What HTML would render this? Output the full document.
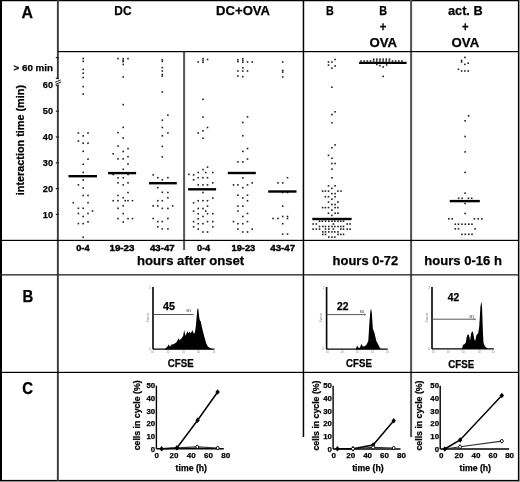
<!DOCTYPE html>
<html><head><meta charset="utf-8"><style>
html,body{margin:0;padding:0;background:#fff;width:520px;height:482px;overflow:hidden}
svg{display:block;filter:grayscale(1)}
text{font-family:"Liberation Sans", sans-serif}
text[font-weight=bold]{stroke:#000;stroke-width:0.25px}
</style></head><body>
<svg width="520" height="482" viewBox="0 0 520 482" font-family='"Liberation Sans", sans-serif'>
<rect width="520" height="482" fill="#fff"/>
<rect x="0" y="0" width="2" height="481" fill="#000"/>
<rect x="0" y="0" width="519" height="1.25" fill="#000"/>
<rect x="517.9" y="0" width="1.3" height="481" fill="#000"/>
<rect x="519.2" y="0" width="0.8" height="482" fill="#888"/>
<rect x="0" y="479.9" width="519" height="1.2" fill="#000"/>
<rect x="0" y="481.1" width="520" height="0.9" fill="#888"/>
<rect x="56.9" y="0" width="1.9" height="481" fill="#3a3a3a"/>
<rect x="302.7" y="0" width="1.5" height="437" fill="#000"/>
<rect x="410.1" y="0" width="2" height="437" fill="#505050"/>
<rect x="183.1" y="51" width="2" height="199" fill="#555"/>
<rect x="58" y="51.0" width="461" height="1.2" fill="#000"/>
<rect x="0" y="239.8" width="519" height="1.2" fill="#000"/>
<rect x="0" y="274.2" width="519" height="1.3" fill="#222"/>
<rect x="0" y="371.8" width="519" height="1.2" fill="#000"/>
<text x="21.5" y="18.2" font-size="16.5" font-weight="bold" textLength="11.5" lengthAdjust="spacingAndGlyphs" fill="#000">A</text>
<text x="22.5" y="301.8" font-size="16.5" font-weight="bold" textLength="10.8" lengthAdjust="spacingAndGlyphs" fill="#000">B</text>
<text x="22.3" y="393.8" font-size="16.5" font-weight="bold" textLength="10.8" lengthAdjust="spacingAndGlyphs" fill="#000">C</text>
<text x="114.3" y="15.4" font-size="12.6" font-weight="bold" textLength="17.2" lengthAdjust="spacingAndGlyphs" fill="#000">DC</text>
<text x="216.1" y="15.4" font-size="12.6" font-weight="bold" textLength="54.0" lengthAdjust="spacingAndGlyphs" fill="#000">DC+OVA</text>
<text x="326.0" y="15.1" font-size="12.6" font-weight="bold" textLength="7.8" lengthAdjust="spacingAndGlyphs" fill="#000">B</text>
<text x="379.3" y="15.1" font-size="12.6" font-weight="bold" textLength="7.8" lengthAdjust="spacingAndGlyphs" fill="#000">B</text>
<text x="379.8" y="30.5" font-size="12.6" font-weight="bold" textLength="6.6" lengthAdjust="spacingAndGlyphs" fill="#000">+</text>
<text x="369.4" y="46.7" font-size="12.6" font-weight="bold" textLength="27.6" lengthAdjust="spacingAndGlyphs" fill="#000">OVA</text>
<text x="448.0" y="15.1" font-size="12.6" font-weight="bold" textLength="34.6" lengthAdjust="spacingAndGlyphs" fill="#000">act. B</text>
<text x="462.1" y="30.5" font-size="12.6" font-weight="bold" textLength="6.6" lengthAdjust="spacingAndGlyphs" fill="#000">+</text>
<text x="451.6" y="46.7" font-size="12.6" font-weight="bold" textLength="27.6" lengthAdjust="spacingAndGlyphs" fill="#000">OVA</text>
<text x="13.6" y="70.6" font-size="9.3" font-weight="bold" textLength="39.4" lengthAdjust="spacingAndGlyphs" fill="#000">&gt; 60 min</text>
<text x="53.0" y="88.3" font-size="9.7" font-weight="bold" text-anchor="end" textLength="10.2" lengthAdjust="spacingAndGlyphs" fill="#000">60</text>
<text x="53.0" y="114.3" font-size="9.7" font-weight="bold" text-anchor="end" textLength="10.2" lengthAdjust="spacingAndGlyphs" fill="#000">50</text>
<text x="53.0" y="140.10000000000002" font-size="9.7" font-weight="bold" text-anchor="end" textLength="10.2" lengthAdjust="spacingAndGlyphs" fill="#000">40</text>
<text x="53.0" y="165.9" font-size="9.7" font-weight="bold" text-anchor="end" textLength="10.2" lengthAdjust="spacingAndGlyphs" fill="#000">30</text>
<text x="53.0" y="191.70000000000002" font-size="9.7" font-weight="bold" text-anchor="end" textLength="10.2" lengthAdjust="spacingAndGlyphs" fill="#000">20</text>
<text x="53.0" y="217.5" font-size="9.7" font-weight="bold" text-anchor="end" textLength="10.2" lengthAdjust="spacingAndGlyphs" fill="#000">10</text>
<line x1="55.8" y1="57.6" x2="59" y2="57.6" stroke="#222" stroke-width="1.2"/>
<line x1="55.8" y1="78.4" x2="59" y2="78.4" stroke="#222" stroke-width="1.2"/>
<line x1="55.8" y1="85.3" x2="59" y2="85.3" stroke="#222" stroke-width="1.2"/>
<line x1="55.8" y1="111.2" x2="59" y2="111.2" stroke="#222" stroke-width="1.2"/>
<line x1="55.8" y1="137.0" x2="59" y2="137.0" stroke="#222" stroke-width="1.2"/>
<line x1="55.8" y1="162.8" x2="59" y2="162.8" stroke="#222" stroke-width="1.2"/>
<line x1="55.8" y1="188.6" x2="59" y2="188.6" stroke="#222" stroke-width="1.2"/>
<line x1="55.8" y1="214.4" x2="59" y2="214.4" stroke="#222" stroke-width="1.2"/>
<rect x="56.5" y="79.2" width="3.2" height="5.4" fill="#fff"/>
<line x1="55.2" y1="82.2" x2="60.8" y2="79.9" stroke="#222" stroke-width="1.0"/>
<line x1="55.6" y1="84.3" x2="61.2" y2="82.0" stroke="#222" stroke-width="1.0"/>
<text transform="translate(23.9,195.2) rotate(-90)" font-size="10.8" font-weight="bold" textLength="110.2" lengthAdjust="spacingAndGlyphs">interaction time (min)</text>
<rect x="82.40" y="57.70" width="1.6" height="1.6" fill="#222"/>
<rect x="82.40" y="60.50" width="1.6" height="1.6" fill="#222"/>
<rect x="82.40" y="68.60" width="1.6" height="1.6" fill="#222"/>
<rect x="82.40" y="72.40" width="1.6" height="1.6" fill="#222"/>
<rect x="82.40" y="76.70" width="1.6" height="1.6" fill="#222"/>
<rect x="82.40" y="85.80" width="1.6" height="1.6" fill="#222"/>
<rect x="82.40" y="93.30" width="1.6" height="1.6" fill="#222"/>
<rect x="82.40" y="135.10" width="1.6" height="1.6" fill="#222"/>
<rect x="82.40" y="142.40" width="1.6" height="1.6" fill="#222"/>
<rect x="82.40" y="150.50" width="1.6" height="1.6" fill="#222"/>
<rect x="82.40" y="163.50" width="1.6" height="1.6" fill="#222"/>
<rect x="82.40" y="171.60" width="1.6" height="1.6" fill="#222"/>
<rect x="82.40" y="179.10" width="1.6" height="1.6" fill="#222"/>
<rect x="82.40" y="187.20" width="1.6" height="1.6" fill="#222"/>
<rect x="82.40" y="194.70" width="1.6" height="1.6" fill="#222"/>
<rect x="82.40" y="207.50" width="1.6" height="1.6" fill="#222"/>
<rect x="82.40" y="215.70" width="1.6" height="1.6" fill="#222"/>
<rect x="82.40" y="222.80" width="1.6" height="1.6" fill="#222"/>
<rect x="82.40" y="236.50" width="1.6" height="1.6" fill="#222"/>
<rect x="77.60" y="132.20" width="1.6" height="1.6" fill="#222"/>
<rect x="77.60" y="140.30" width="1.6" height="1.6" fill="#222"/>
<rect x="77.60" y="184.10" width="1.6" height="1.6" fill="#222"/>
<rect x="77.60" y="207.50" width="1.6" height="1.6" fill="#222"/>
<rect x="77.60" y="212.70" width="1.6" height="1.6" fill="#222"/>
<rect x="77.60" y="222.80" width="1.6" height="1.6" fill="#222"/>
<rect x="87.20" y="132.20" width="1.6" height="1.6" fill="#222"/>
<rect x="87.20" y="142.40" width="1.6" height="1.6" fill="#222"/>
<rect x="87.20" y="158.40" width="1.6" height="1.6" fill="#222"/>
<rect x="87.20" y="194.70" width="1.6" height="1.6" fill="#222"/>
<rect x="87.20" y="201.90" width="1.6" height="1.6" fill="#222"/>
<rect x="87.20" y="212.70" width="1.6" height="1.6" fill="#222"/>
<rect x="87.20" y="221.00" width="1.6" height="1.6" fill="#222"/>
<rect x="72.50" y="201.90" width="1.6" height="1.6" fill="#222"/>
<rect x="91.70" y="210.20" width="1.6" height="1.6" fill="#222"/>
<rect x="68.5" y="175.0" width="28.5" height="2.4" fill="#000"/>
<rect x="122.40" y="57.90" width="1.6" height="1.6" fill="#222"/>
<rect x="122.40" y="59.80" width="1.6" height="1.6" fill="#222"/>
<rect x="122.40" y="60.80" width="1.6" height="1.6" fill="#222"/>
<rect x="122.40" y="63.60" width="1.6" height="1.6" fill="#222"/>
<rect x="122.40" y="76.10" width="1.6" height="1.6" fill="#222"/>
<rect x="122.40" y="103.80" width="1.6" height="1.6" fill="#222"/>
<rect x="122.40" y="126.60" width="1.6" height="1.6" fill="#222"/>
<rect x="122.40" y="137.20" width="1.6" height="1.6" fill="#222"/>
<rect x="122.40" y="150.70" width="1.6" height="1.6" fill="#222"/>
<rect x="122.40" y="158.10" width="1.6" height="1.6" fill="#222"/>
<rect x="122.40" y="168.50" width="1.6" height="1.6" fill="#222"/>
<rect x="122.40" y="177.00" width="1.6" height="1.6" fill="#222"/>
<rect x="122.40" y="184.10" width="1.6" height="1.6" fill="#222"/>
<rect x="122.40" y="196.90" width="1.6" height="1.6" fill="#222"/>
<rect x="122.40" y="205.00" width="1.6" height="1.6" fill="#222"/>
<rect x="122.40" y="212.80" width="1.6" height="1.6" fill="#222"/>
<rect x="122.40" y="221.20" width="1.6" height="1.6" fill="#222"/>
<rect x="117.20" y="57.80" width="1.6" height="1.6" fill="#222"/>
<rect x="117.20" y="131.80" width="1.6" height="1.6" fill="#222"/>
<rect x="117.20" y="145.30" width="1.6" height="1.6" fill="#222"/>
<rect x="117.20" y="158.10" width="1.6" height="1.6" fill="#222"/>
<rect x="117.20" y="177.00" width="1.6" height="1.6" fill="#222"/>
<rect x="117.20" y="182.00" width="1.6" height="1.6" fill="#222"/>
<rect x="117.20" y="194.70" width="1.6" height="1.6" fill="#222"/>
<rect x="117.20" y="199.90" width="1.6" height="1.6" fill="#222"/>
<rect x="117.20" y="207.50" width="1.6" height="1.6" fill="#222"/>
<rect x="117.20" y="217.80" width="1.6" height="1.6" fill="#222"/>
<rect x="127.20" y="57.80" width="1.6" height="1.6" fill="#222"/>
<rect x="127.20" y="147.80" width="1.6" height="1.6" fill="#222"/>
<rect x="127.20" y="155.90" width="1.6" height="1.6" fill="#222"/>
<rect x="127.20" y="163.20" width="1.6" height="1.6" fill="#222"/>
<rect x="127.20" y="182.00" width="1.6" height="1.6" fill="#222"/>
<rect x="127.20" y="191.80" width="1.6" height="1.6" fill="#222"/>
<rect x="127.20" y="199.90" width="1.6" height="1.6" fill="#222"/>
<rect x="127.20" y="217.80" width="1.6" height="1.6" fill="#222"/>
<rect x="112.40" y="153.00" width="1.6" height="1.6" fill="#222"/>
<rect x="112.40" y="173.70" width="1.6" height="1.6" fill="#222"/>
<rect x="112.40" y="199.90" width="1.6" height="1.6" fill="#222"/>
<rect x="131.70" y="199.90" width="1.6" height="1.6" fill="#222"/>
<rect x="131.70" y="217.80" width="1.6" height="1.6" fill="#222"/>
<rect x="124.40" y="199.90" width="1.6" height="1.6" fill="#222"/>
<rect x="127.30" y="173.70" width="1.6" height="1.6" fill="#222"/>
<rect x="108.1" y="171.9" width="28.0" height="2.4" fill="#000"/>
<rect x="161.50" y="59.00" width="1.6" height="1.6" fill="#222"/>
<rect x="161.50" y="60.60" width="1.6" height="1.6" fill="#222"/>
<rect x="161.50" y="66.80" width="1.6" height="1.6" fill="#222"/>
<rect x="161.50" y="70.20" width="1.6" height="1.6" fill="#222"/>
<rect x="161.50" y="73.70" width="1.6" height="1.6" fill="#222"/>
<rect x="161.50" y="75.30" width="1.6" height="1.6" fill="#222"/>
<rect x="161.50" y="91.20" width="1.6" height="1.6" fill="#222"/>
<rect x="161.50" y="119.40" width="1.6" height="1.6" fill="#222"/>
<rect x="161.50" y="126.70" width="1.6" height="1.6" fill="#222"/>
<rect x="161.50" y="135.00" width="1.6" height="1.6" fill="#222"/>
<rect x="161.50" y="145.60" width="1.6" height="1.6" fill="#222"/>
<rect x="161.50" y="156.10" width="1.6" height="1.6" fill="#222"/>
<rect x="161.50" y="179.00" width="1.6" height="1.6" fill="#222"/>
<rect x="161.50" y="191.50" width="1.6" height="1.6" fill="#222"/>
<rect x="161.50" y="199.90" width="1.6" height="1.6" fill="#222"/>
<rect x="161.50" y="207.60" width="1.6" height="1.6" fill="#222"/>
<rect x="161.50" y="220.80" width="1.6" height="1.6" fill="#222"/>
<rect x="161.50" y="228.10" width="1.6" height="1.6" fill="#222"/>
<rect x="167.10" y="114.40" width="1.6" height="1.6" fill="#222"/>
<rect x="167.10" y="132.10" width="1.6" height="1.6" fill="#222"/>
<rect x="167.10" y="176.90" width="1.6" height="1.6" fill="#222"/>
<rect x="167.10" y="191.70" width="1.6" height="1.6" fill="#222"/>
<rect x="167.10" y="197.00" width="1.6" height="1.6" fill="#222"/>
<rect x="167.10" y="207.60" width="1.6" height="1.6" fill="#222"/>
<rect x="167.10" y="217.70" width="1.6" height="1.6" fill="#222"/>
<rect x="167.10" y="228.10" width="1.6" height="1.6" fill="#222"/>
<rect x="157.00" y="176.90" width="1.6" height="1.6" fill="#222"/>
<rect x="157.00" y="186.90" width="1.6" height="1.6" fill="#222"/>
<rect x="157.00" y="199.90" width="1.6" height="1.6" fill="#222"/>
<rect x="157.00" y="205.10" width="1.6" height="1.6" fill="#222"/>
<rect x="157.00" y="220.80" width="1.6" height="1.6" fill="#222"/>
<rect x="157.00" y="226.00" width="1.6" height="1.6" fill="#222"/>
<rect x="152.40" y="174.10" width="1.6" height="1.6" fill="#222"/>
<rect x="152.40" y="205.10" width="1.6" height="1.6" fill="#222"/>
<rect x="152.40" y="217.70" width="1.6" height="1.6" fill="#222"/>
<rect x="171.80" y="205.10" width="1.6" height="1.6" fill="#222"/>
<rect x="149" y="182.0" width="27.80000000000001" height="2.4" fill="#000"/>
<rect x="202.20" y="57.90" width="1.6" height="1.6" fill="#222"/>
<rect x="202.20" y="59.70" width="1.6" height="1.6" fill="#222"/>
<rect x="202.20" y="61.50" width="1.6" height="1.6" fill="#222"/>
<rect x="202.20" y="98.60" width="1.6" height="1.6" fill="#222"/>
<rect x="202.20" y="116.30" width="1.6" height="1.6" fill="#222"/>
<rect x="202.20" y="130.00" width="1.6" height="1.6" fill="#222"/>
<rect x="202.20" y="137.40" width="1.6" height="1.6" fill="#222"/>
<rect x="202.20" y="168.80" width="1.6" height="1.6" fill="#222"/>
<rect x="202.20" y="176.90" width="1.6" height="1.6" fill="#222"/>
<rect x="202.20" y="184.10" width="1.6" height="1.6" fill="#222"/>
<rect x="202.20" y="191.70" width="1.6" height="1.6" fill="#222"/>
<rect x="202.20" y="199.90" width="1.6" height="1.6" fill="#222"/>
<rect x="202.20" y="207.70" width="1.6" height="1.6" fill="#222"/>
<rect x="202.20" y="215.70" width="1.6" height="1.6" fill="#222"/>
<rect x="202.20" y="222.90" width="1.6" height="1.6" fill="#222"/>
<rect x="202.20" y="231.20" width="1.6" height="1.6" fill="#222"/>
<rect x="197.40" y="61.10" width="1.6" height="1.6" fill="#222"/>
<rect x="197.40" y="132.20" width="1.6" height="1.6" fill="#222"/>
<rect x="197.40" y="171.70" width="1.6" height="1.6" fill="#222"/>
<rect x="197.40" y="176.90" width="1.6" height="1.6" fill="#222"/>
<rect x="197.40" y="184.10" width="1.6" height="1.6" fill="#222"/>
<rect x="197.40" y="199.90" width="1.6" height="1.6" fill="#222"/>
<rect x="197.40" y="207.70" width="1.6" height="1.6" fill="#222"/>
<rect x="197.40" y="212.90" width="1.6" height="1.6" fill="#222"/>
<rect x="197.40" y="218.00" width="1.6" height="1.6" fill="#222"/>
<rect x="197.40" y="222.90" width="1.6" height="1.6" fill="#222"/>
<rect x="197.40" y="228.30" width="1.6" height="1.6" fill="#222"/>
<rect x="206.70" y="58.70" width="1.6" height="1.6" fill="#222"/>
<rect x="206.70" y="126.70" width="1.6" height="1.6" fill="#222"/>
<rect x="206.70" y="166.30" width="1.6" height="1.6" fill="#222"/>
<rect x="206.70" y="176.90" width="1.6" height="1.6" fill="#222"/>
<rect x="206.70" y="184.10" width="1.6" height="1.6" fill="#222"/>
<rect x="206.70" y="199.90" width="1.6" height="1.6" fill="#222"/>
<rect x="206.70" y="205.30" width="1.6" height="1.6" fill="#222"/>
<rect x="206.70" y="212.90" width="1.6" height="1.6" fill="#222"/>
<rect x="206.70" y="220.80" width="1.6" height="1.6" fill="#222"/>
<rect x="206.70" y="231.20" width="1.6" height="1.6" fill="#222"/>
<rect x="204.90" y="171.70" width="1.6" height="1.6" fill="#222"/>
<rect x="204.90" y="210.30" width="1.6" height="1.6" fill="#222"/>
<rect x="212.00" y="171.70" width="1.6" height="1.6" fill="#222"/>
<rect x="212.00" y="182.10" width="1.6" height="1.6" fill="#222"/>
<rect x="212.00" y="197.20" width="1.6" height="1.6" fill="#222"/>
<rect x="212.00" y="212.90" width="1.6" height="1.6" fill="#222"/>
<rect x="212.00" y="220.80" width="1.6" height="1.6" fill="#222"/>
<rect x="212.00" y="226.00" width="1.6" height="1.6" fill="#222"/>
<rect x="192.80" y="174.10" width="1.6" height="1.6" fill="#222"/>
<rect x="192.80" y="179.00" width="1.6" height="1.6" fill="#222"/>
<rect x="192.80" y="202.00" width="1.6" height="1.6" fill="#222"/>
<rect x="192.80" y="210.30" width="1.6" height="1.6" fill="#222"/>
<rect x="192.80" y="220.80" width="1.6" height="1.6" fill="#222"/>
<rect x="192.80" y="226.00" width="1.6" height="1.6" fill="#222"/>
<rect x="188.10" y="173.60" width="1.6" height="1.6" fill="#222"/>
<rect x="188.1" y="188.10000000000002" width="28.0" height="2.4" fill="#000"/>
<rect x="242.00" y="57.90" width="1.6" height="1.6" fill="#222"/>
<rect x="242.00" y="59.70" width="1.6" height="1.6" fill="#222"/>
<rect x="242.00" y="61.50" width="1.6" height="1.6" fill="#222"/>
<rect x="242.00" y="67.00" width="1.6" height="1.6" fill="#222"/>
<rect x="242.00" y="70.20" width="1.6" height="1.6" fill="#222"/>
<rect x="242.00" y="75.80" width="1.6" height="1.6" fill="#222"/>
<rect x="242.00" y="121.70" width="1.6" height="1.6" fill="#222"/>
<rect x="242.00" y="135.00" width="1.6" height="1.6" fill="#222"/>
<rect x="242.00" y="150.60" width="1.6" height="1.6" fill="#222"/>
<rect x="242.00" y="161.10" width="1.6" height="1.6" fill="#222"/>
<rect x="242.00" y="177.10" width="1.6" height="1.6" fill="#222"/>
<rect x="242.00" y="186.90" width="1.6" height="1.6" fill="#222"/>
<rect x="242.00" y="197.20" width="1.6" height="1.6" fill="#222"/>
<rect x="242.00" y="205.30" width="1.6" height="1.6" fill="#222"/>
<rect x="242.00" y="215.70" width="1.6" height="1.6" fill="#222"/>
<rect x="242.00" y="222.90" width="1.6" height="1.6" fill="#222"/>
<rect x="242.00" y="231.20" width="1.6" height="1.6" fill="#222"/>
<rect x="237.10" y="59.00" width="1.6" height="1.6" fill="#222"/>
<rect x="237.10" y="60.80" width="1.6" height="1.6" fill="#222"/>
<rect x="237.10" y="70.20" width="1.6" height="1.6" fill="#222"/>
<rect x="237.10" y="75.10" width="1.6" height="1.6" fill="#222"/>
<rect x="237.10" y="161.10" width="1.6" height="1.6" fill="#222"/>
<rect x="237.10" y="184.10" width="1.6" height="1.6" fill="#222"/>
<rect x="237.10" y="194.40" width="1.6" height="1.6" fill="#222"/>
<rect x="237.10" y="205.30" width="1.6" height="1.6" fill="#222"/>
<rect x="237.10" y="210.30" width="1.6" height="1.6" fill="#222"/>
<rect x="237.10" y="222.90" width="1.6" height="1.6" fill="#222"/>
<rect x="237.10" y="228.30" width="1.6" height="1.6" fill="#222"/>
<rect x="246.70" y="61.20" width="1.6" height="1.6" fill="#222"/>
<rect x="246.70" y="70.20" width="1.6" height="1.6" fill="#222"/>
<rect x="246.70" y="116.10" width="1.6" height="1.6" fill="#222"/>
<rect x="246.70" y="147.70" width="1.6" height="1.6" fill="#222"/>
<rect x="246.70" y="158.20" width="1.6" height="1.6" fill="#222"/>
<rect x="246.70" y="184.10" width="1.6" height="1.6" fill="#222"/>
<rect x="246.70" y="194.40" width="1.6" height="1.6" fill="#222"/>
<rect x="246.70" y="199.90" width="1.6" height="1.6" fill="#222"/>
<rect x="246.70" y="212.70" width="1.6" height="1.6" fill="#222"/>
<rect x="246.70" y="220.80" width="1.6" height="1.6" fill="#222"/>
<rect x="246.70" y="231.20" width="1.6" height="1.6" fill="#222"/>
<rect x="251.40" y="61.20" width="1.6" height="1.6" fill="#222"/>
<rect x="251.40" y="182.10" width="1.6" height="1.6" fill="#222"/>
<rect x="251.40" y="228.30" width="1.6" height="1.6" fill="#222"/>
<rect x="232.70" y="184.10" width="1.6" height="1.6" fill="#222"/>
<rect x="232.70" y="220.80" width="1.6" height="1.6" fill="#222"/>
<rect x="227.8" y="171.8" width="28.0" height="2.4" fill="#000"/>
<rect x="281.90" y="61.20" width="1.6" height="1.6" fill="#222"/>
<rect x="281.90" y="69.70" width="1.6" height="1.6" fill="#222"/>
<rect x="281.90" y="71.30" width="1.6" height="1.6" fill="#222"/>
<rect x="281.90" y="76.10" width="1.6" height="1.6" fill="#222"/>
<rect x="281.90" y="182.10" width="1.6" height="1.6" fill="#222"/>
<rect x="281.90" y="191.70" width="1.6" height="1.6" fill="#222"/>
<rect x="281.90" y="205.30" width="1.6" height="1.6" fill="#222"/>
<rect x="281.90" y="215.70" width="1.6" height="1.6" fill="#222"/>
<rect x="281.90" y="222.90" width="1.6" height="1.6" fill="#222"/>
<rect x="281.90" y="233.30" width="1.6" height="1.6" fill="#222"/>
<rect x="286.70" y="176.90" width="1.6" height="1.6" fill="#222"/>
<rect x="286.70" y="191.70" width="1.6" height="1.6" fill="#222"/>
<rect x="286.70" y="215.70" width="1.6" height="1.6" fill="#222"/>
<rect x="286.70" y="217.70" width="1.6" height="1.6" fill="#222"/>
<rect x="286.70" y="233.30" width="1.6" height="1.6" fill="#222"/>
<rect x="277.20" y="182.10" width="1.6" height="1.6" fill="#222"/>
<rect x="277.20" y="217.70" width="1.6" height="1.6" fill="#222"/>
<rect x="272.20" y="217.70" width="1.6" height="1.6" fill="#222"/>
<rect x="268.2" y="190.3" width="28.30000000000001" height="2.4" fill="#000"/>
<rect x="331.10" y="61.20" width="1.6" height="1.6" fill="#222"/>
<rect x="331.10" y="67.40" width="1.6" height="1.6" fill="#222"/>
<rect x="331.10" y="86.40" width="1.6" height="1.6" fill="#222"/>
<rect x="331.10" y="113.80" width="1.6" height="1.6" fill="#222"/>
<rect x="331.10" y="121.90" width="1.6" height="1.6" fill="#222"/>
<rect x="331.10" y="146.90" width="1.6" height="1.6" fill="#222"/>
<rect x="331.10" y="157.50" width="1.6" height="1.6" fill="#222"/>
<rect x="331.10" y="162.70" width="1.6" height="1.6" fill="#222"/>
<rect x="331.10" y="168.30" width="1.6" height="1.6" fill="#222"/>
<rect x="331.10" y="177.00" width="1.6" height="1.6" fill="#222"/>
<rect x="331.10" y="187.60" width="1.6" height="1.6" fill="#222"/>
<rect x="331.10" y="192.80" width="1.6" height="1.6" fill="#222"/>
<rect x="331.10" y="198.40" width="1.6" height="1.6" fill="#222"/>
<rect x="331.10" y="203.70" width="1.6" height="1.6" fill="#222"/>
<rect x="331.10" y="209.40" width="1.6" height="1.6" fill="#222"/>
<rect x="331.10" y="214.60" width="1.6" height="1.6" fill="#222"/>
<rect x="334.30" y="58.70" width="1.6" height="1.6" fill="#222"/>
<rect x="334.30" y="65.20" width="1.6" height="1.6" fill="#222"/>
<rect x="334.30" y="111.00" width="1.6" height="1.6" fill="#222"/>
<rect x="334.30" y="144.10" width="1.6" height="1.6" fill="#222"/>
<rect x="334.30" y="162.70" width="1.6" height="1.6" fill="#222"/>
<rect x="334.30" y="185.00" width="1.6" height="1.6" fill="#222"/>
<rect x="334.30" y="192.80" width="1.6" height="1.6" fill="#222"/>
<rect x="334.30" y="195.90" width="1.6" height="1.6" fill="#222"/>
<rect x="334.30" y="203.70" width="1.6" height="1.6" fill="#222"/>
<rect x="334.30" y="206.80" width="1.6" height="1.6" fill="#222"/>
<rect x="334.30" y="212.40" width="1.6" height="1.6" fill="#222"/>
<rect x="327.70" y="61.20" width="1.6" height="1.6" fill="#222"/>
<rect x="327.70" y="64.30" width="1.6" height="1.6" fill="#222"/>
<rect x="327.70" y="154.60" width="1.6" height="1.6" fill="#222"/>
<rect x="327.70" y="185.00" width="1.6" height="1.6" fill="#222"/>
<rect x="327.70" y="190.30" width="1.6" height="1.6" fill="#222"/>
<rect x="327.70" y="195.90" width="1.6" height="1.6" fill="#222"/>
<rect x="327.70" y="201.30" width="1.6" height="1.6" fill="#222"/>
<rect x="327.70" y="206.80" width="1.6" height="1.6" fill="#222"/>
<rect x="327.70" y="212.40" width="1.6" height="1.6" fill="#222"/>
<rect x="324.60" y="190.30" width="1.6" height="1.6" fill="#222"/>
<rect x="324.60" y="195.90" width="1.6" height="1.6" fill="#222"/>
<rect x="324.60" y="206.80" width="1.6" height="1.6" fill="#222"/>
<rect x="321.80" y="190.30" width="1.6" height="1.6" fill="#222"/>
<rect x="321.80" y="206.80" width="1.6" height="1.6" fill="#222"/>
<rect x="337.10" y="190.30" width="1.6" height="1.6" fill="#222"/>
<rect x="337.10" y="201.30" width="1.6" height="1.6" fill="#222"/>
<rect x="337.10" y="206.80" width="1.6" height="1.6" fill="#222"/>
<rect x="337.10" y="212.40" width="1.6" height="1.6" fill="#222"/>
<rect x="340.20" y="190.30" width="1.6" height="1.6" fill="#222"/>
<rect x="312.3" y="217.8" width="39.30000000000001" height="2.4" fill="#000"/>
<rect x="318.70" y="220.40" width="1.6" height="1.6" fill="#222"/>
<rect x="321.50" y="220.40" width="1.6" height="1.6" fill="#222"/>
<rect x="324.70" y="220.40" width="1.6" height="1.6" fill="#222"/>
<rect x="328.00" y="220.40" width="1.6" height="1.6" fill="#222"/>
<rect x="331.20" y="220.40" width="1.6" height="1.6" fill="#222"/>
<rect x="334.00" y="220.40" width="1.6" height="1.6" fill="#222"/>
<rect x="337.20" y="220.40" width="1.6" height="1.6" fill="#222"/>
<rect x="340.00" y="220.40" width="1.6" height="1.6" fill="#222"/>
<rect x="342.70" y="220.40" width="1.6" height="1.6" fill="#222"/>
<rect x="312.30" y="223.20" width="1.6" height="1.6" fill="#222"/>
<rect x="315.50" y="223.20" width="1.6" height="1.6" fill="#222"/>
<rect x="332.60" y="223.20" width="1.6" height="1.6" fill="#222"/>
<rect x="346.40" y="223.20" width="1.6" height="1.6" fill="#222"/>
<rect x="349.20" y="223.20" width="1.6" height="1.6" fill="#222"/>
<rect x="318.70" y="225.70" width="1.6" height="1.6" fill="#222"/>
<rect x="322.00" y="225.70" width="1.6" height="1.6" fill="#222"/>
<rect x="324.70" y="225.70" width="1.6" height="1.6" fill="#222"/>
<rect x="328.00" y="225.70" width="1.6" height="1.6" fill="#222"/>
<rect x="331.20" y="225.70" width="1.6" height="1.6" fill="#222"/>
<rect x="334.00" y="225.70" width="1.6" height="1.6" fill="#222"/>
<rect x="337.20" y="225.70" width="1.6" height="1.6" fill="#222"/>
<rect x="340.00" y="225.70" width="1.6" height="1.6" fill="#222"/>
<rect x="342.70" y="225.70" width="1.6" height="1.6" fill="#222"/>
<rect x="312.30" y="228.30" width="1.6" height="1.6" fill="#222"/>
<rect x="315.50" y="228.30" width="1.6" height="1.6" fill="#222"/>
<rect x="318.70" y="228.30" width="1.6" height="1.6" fill="#222"/>
<rect x="324.70" y="228.30" width="1.6" height="1.6" fill="#222"/>
<rect x="328.00" y="228.30" width="1.6" height="1.6" fill="#222"/>
<rect x="332.60" y="228.30" width="1.6" height="1.6" fill="#222"/>
<rect x="340.00" y="228.30" width="1.6" height="1.6" fill="#222"/>
<rect x="342.70" y="228.30" width="1.6" height="1.6" fill="#222"/>
<rect x="346.40" y="228.30" width="1.6" height="1.6" fill="#222"/>
<rect x="349.20" y="228.30" width="1.6" height="1.6" fill="#222"/>
<rect x="322.00" y="231.10" width="1.6" height="1.6" fill="#222"/>
<rect x="324.70" y="231.10" width="1.6" height="1.6" fill="#222"/>
<rect x="328.00" y="231.10" width="1.6" height="1.6" fill="#222"/>
<rect x="331.20" y="231.10" width="1.6" height="1.6" fill="#222"/>
<rect x="334.00" y="231.10" width="1.6" height="1.6" fill="#222"/>
<rect x="337.20" y="231.10" width="1.6" height="1.6" fill="#222"/>
<rect x="322.00" y="233.60" width="1.6" height="1.6" fill="#222"/>
<rect x="324.70" y="233.60" width="1.6" height="1.6" fill="#222"/>
<rect x="337.20" y="233.60" width="1.6" height="1.6" fill="#222"/>
<rect x="340.00" y="233.60" width="1.6" height="1.6" fill="#222"/>
<rect x="342.70" y="233.60" width="1.6" height="1.6" fill="#222"/>
<rect x="328.00" y="236.30" width="1.6" height="1.6" fill="#222"/>
<rect x="331.20" y="236.30" width="1.6" height="1.6" fill="#222"/>
<rect x="334.00" y="236.30" width="1.6" height="1.6" fill="#222"/>
<rect x="359.1" y="61.8" width="47.5" height="2.2" fill="#000"/>
<rect x="360.20" y="60.20" width="1.6" height="1.6" fill="#222"/>
<rect x="363.35" y="60.20" width="1.6" height="1.6" fill="#222"/>
<rect x="366.50" y="60.20" width="1.6" height="1.6" fill="#222"/>
<rect x="369.65" y="60.20" width="1.6" height="1.6" fill="#222"/>
<rect x="372.80" y="60.20" width="1.6" height="1.6" fill="#222"/>
<rect x="375.95" y="60.20" width="1.6" height="1.6" fill="#222"/>
<rect x="379.10" y="60.20" width="1.6" height="1.6" fill="#222"/>
<rect x="382.25" y="60.20" width="1.6" height="1.6" fill="#222"/>
<rect x="385.40" y="60.20" width="1.6" height="1.6" fill="#222"/>
<rect x="388.55" y="60.20" width="1.6" height="1.6" fill="#222"/>
<rect x="391.70" y="60.20" width="1.6" height="1.6" fill="#222"/>
<rect x="394.85" y="60.20" width="1.6" height="1.6" fill="#222"/>
<rect x="398.00" y="60.20" width="1.6" height="1.6" fill="#222"/>
<rect x="401.15" y="60.20" width="1.6" height="1.6" fill="#222"/>
<rect x="372.90" y="58.40" width="1.6" height="1.6" fill="#222"/>
<rect x="376.05" y="58.40" width="1.6" height="1.6" fill="#222"/>
<rect x="379.20" y="58.40" width="1.6" height="1.6" fill="#222"/>
<rect x="382.35" y="58.40" width="1.6" height="1.6" fill="#222"/>
<rect x="385.50" y="58.40" width="1.6" height="1.6" fill="#222"/>
<rect x="388.65" y="58.40" width="1.6" height="1.6" fill="#222"/>
<rect x="376.00" y="63.60" width="1.6" height="1.6" fill="#222"/>
<rect x="379.10" y="64.80" width="1.6" height="1.6" fill="#222"/>
<rect x="382.40" y="66.20" width="1.6" height="1.6" fill="#222"/>
<rect x="382.40" y="75.60" width="1.6" height="1.6" fill="#222"/>
<rect x="385.80" y="64.10" width="1.6" height="1.6" fill="#222"/>
<rect x="464.10" y="56.60" width="1.6" height="1.6" fill="#222"/>
<rect x="464.10" y="63.60" width="1.6" height="1.6" fill="#222"/>
<rect x="464.10" y="70.20" width="1.6" height="1.6" fill="#222"/>
<rect x="460.80" y="59.70" width="1.6" height="1.6" fill="#222"/>
<rect x="460.80" y="61.20" width="1.6" height="1.6" fill="#222"/>
<rect x="460.80" y="70.20" width="1.6" height="1.6" fill="#222"/>
<rect x="467.40" y="62.40" width="1.6" height="1.6" fill="#222"/>
<rect x="467.40" y="70.20" width="1.6" height="1.6" fill="#222"/>
<rect x="457.70" y="68.50" width="1.6" height="1.6" fill="#222"/>
<rect x="467.80" y="115.00" width="1.6" height="1.6" fill="#222"/>
<rect x="464.30" y="120.00" width="1.6" height="1.6" fill="#222"/>
<rect x="464.30" y="135.70" width="1.6" height="1.6" fill="#222"/>
<rect x="464.30" y="151.10" width="1.6" height="1.6" fill="#222"/>
<rect x="464.30" y="171.60" width="1.6" height="1.6" fill="#222"/>
<rect x="464.30" y="192.40" width="1.6" height="1.6" fill="#222"/>
<rect x="464.30" y="202.70" width="1.6" height="1.6" fill="#222"/>
<rect x="464.30" y="212.70" width="1.6" height="1.6" fill="#222"/>
<rect x="457.80" y="197.50" width="1.6" height="1.6" fill="#222"/>
<rect x="461.30" y="197.50" width="1.6" height="1.6" fill="#222"/>
<rect x="467.60" y="197.50" width="1.6" height="1.6" fill="#222"/>
<rect x="470.90" y="197.50" width="1.6" height="1.6" fill="#222"/>
<rect x="449.7" y="199.9" width="30.100000000000023" height="2.4" fill="#000"/>
<rect x="448.00" y="218.00" width="1.6" height="1.6" fill="#222"/>
<rect x="451.40" y="218.00" width="1.6" height="1.6" fill="#222"/>
<rect x="473.60" y="218.00" width="1.6" height="1.6" fill="#222"/>
<rect x="477.40" y="218.00" width="1.6" height="1.6" fill="#222"/>
<rect x="481.00" y="218.00" width="1.6" height="1.6" fill="#222"/>
<rect x="454.50" y="223.40" width="1.6" height="1.6" fill="#222"/>
<rect x="457.70" y="223.40" width="1.6" height="1.6" fill="#222"/>
<rect x="461.20" y="223.40" width="1.6" height="1.6" fill="#222"/>
<rect x="464.50" y="223.40" width="1.6" height="1.6" fill="#222"/>
<rect x="468.00" y="223.40" width="1.6" height="1.6" fill="#222"/>
<rect x="471.20" y="223.40" width="1.6" height="1.6" fill="#222"/>
<rect x="454.50" y="228.10" width="1.6" height="1.6" fill="#222"/>
<rect x="457.70" y="228.10" width="1.6" height="1.6" fill="#222"/>
<rect x="474.30" y="228.10" width="1.6" height="1.6" fill="#222"/>
<rect x="461.20" y="233.50" width="1.6" height="1.6" fill="#222"/>
<rect x="464.50" y="233.50" width="1.6" height="1.6" fill="#222"/>
<rect x="468.00" y="233.50" width="1.6" height="1.6" fill="#222"/>
<rect x="471.20" y="233.50" width="1.6" height="1.6" fill="#222"/>
<text x="76.2" y="251.0" font-size="9.4" font-weight="bold" textLength="13.4" lengthAdjust="spacingAndGlyphs" fill="#000" style="stroke-width:0.4px">0-4</text>
<text x="109.5" y="251.0" font-size="9.4" font-weight="bold" textLength="25.0" lengthAdjust="spacingAndGlyphs" fill="#000" style="stroke-width:0.4px">19-23</text>
<text x="150.0" y="251.0" font-size="9.4" font-weight="bold" textLength="24.6" lengthAdjust="spacingAndGlyphs" fill="#000" style="stroke-width:0.4px">43-47</text>
<text x="197.0" y="251.0" font-size="9.4" font-weight="bold" textLength="13.2" lengthAdjust="spacingAndGlyphs" fill="#000" style="stroke-width:0.4px">0-4</text>
<text x="231.5" y="251.0" font-size="9.4" font-weight="bold" textLength="23.8" lengthAdjust="spacingAndGlyphs" fill="#000" style="stroke-width:0.4px">19-23</text>
<text x="270.29999999999995" y="251.0" font-size="9.4" font-weight="bold" textLength="24.8" lengthAdjust="spacingAndGlyphs" fill="#000" style="stroke-width:0.4px">43-47</text>
<text x="137.0" y="264.5" font-size="13" font-weight="bold" textLength="107.2" lengthAdjust="spacingAndGlyphs" fill="#000">hours after onset</text>
<text x="332.6" y="264.6" font-size="13" font-weight="bold" textLength="65.6" lengthAdjust="spacingAndGlyphs" fill="#000">hours 0-72</text>
<text x="424.3" y="264.6" font-size="13" font-weight="bold" textLength="77.6" lengthAdjust="spacingAndGlyphs" fill="#000">hours 0-16 h</text>
<line x1="153.0" y1="287.0" x2="153.0" y2="349.2" stroke="#000" stroke-width="1.6"/>
<line x1="153.0" y1="349.2" x2="214.4" y2="349.2" stroke="#000" stroke-width="1.2"/>
<text x="149.2" y="288.8" font-size="3" fill="#777">2</text>
<text transform="translate(148.8,322.1) rotate(-90)" font-size="3" fill="#888">Events</text>
<text x="149.0" y="350.0" font-size="3" fill="#777">0</text>
<polygon points="164.4,349.3 166.9,347.2 168.8,344.5 170.0,346.8 171.5,344.5 173.5,344.2 175.4,343.0 176.9,341.8 178.5,338.2 179.6,340.3 181.2,338.8 183.1,336.1 184.2,330.0 185.4,335.7 186.5,333.4 187.3,331.0 188.5,333.4 189.6,331.5 190.8,333.4 192.3,330.0 193.8,333.8 194.9,332.4 195.9,325.9 196.7,316.2 197.4,308.8 198.3,308.8 199.2,317.3 199.9,320.5 200.8,321.6 201.7,325.9 202.9,331.3 204.6,337.8 206.2,343.2 207.8,346.4 210.0,348.0 212.7,349.3" fill="#000"/>
<line x1="153.0" y1="314.5" x2="193.7" y2="314.5" stroke="#444" stroke-width="0.9"/>
<polygon points="191.7,313.5 194.2,314.5 191.7,315.5" fill="#777"/>
<text x="186.5" y="312.2" font-size="3.4" fill="#333" style="stroke:none">M1</text>
<text x="152.5" y="353.2" font-size="2.8" text-anchor="middle" fill="#888">10</text>
<text x="167.8" y="353.2" font-size="2.8" text-anchor="middle" fill="#888">10</text>
<text x="183.4" y="353.2" font-size="2.8" text-anchor="middle" fill="#888">10</text>
<text x="198.5" y="353.2" font-size="2.8" text-anchor="middle" fill="#888">10</text>
<text x="213.8" y="353.2" font-size="2.8" text-anchor="middle" fill="#888">10</text>
<text x="163.0" y="309.5" font-size="11.3" font-weight="bold" textLength="12.0" lengthAdjust="spacingAndGlyphs" fill="#000">45</text>
<text x="167.8" y="367.0" font-size="10.4" font-weight="bold" textLength="25.8" lengthAdjust="spacingAndGlyphs" fill="#000">CFSE</text>
<line x1="326.6" y1="287.0" x2="326.6" y2="349.2" stroke="#000" stroke-width="1.6"/>
<line x1="326.6" y1="349.2" x2="387.7" y2="349.2" stroke="#000" stroke-width="1.2"/>
<text x="322.8" y="288.8" font-size="3" fill="#777">2</text>
<text transform="translate(322.40000000000003,322.1) rotate(-90)" font-size="3" fill="#888">Events</text>
<text x="322.6" y="350.0" font-size="3" fill="#777">0</text>
<polygon points="355.7,349.2 357.1,345.4 358.2,347.5 359.7,348.0 361.4,344.0 362.8,346.5 364.8,346.2 366.6,344.5 368.3,341.1 369.4,322.8 370.3,311.4 371.1,308.6 371.9,313.7 372.8,328.5 374.5,333.1 376.3,341.1 378.0,344.0 379.7,347.4 380.8,349.2" fill="#000"/>
<line x1="326.6" y1="314.6" x2="366.0" y2="314.6" stroke="#444" stroke-width="0.9"/>
<polygon points="364.0,313.6 366.5,314.6 364.0,315.6" fill="#777"/>
<text x="359.8" y="313.0" font-size="3.4" fill="#333" style="stroke:none">M1</text>
<text x="327.4" y="353.2" font-size="2.8" text-anchor="middle" fill="#888">10</text>
<text x="342.0" y="353.2" font-size="2.8" text-anchor="middle" fill="#888">10</text>
<text x="357.2" y="353.2" font-size="2.8" text-anchor="middle" fill="#888">10</text>
<text x="372.4" y="353.2" font-size="2.8" text-anchor="middle" fill="#888">10</text>
<text x="387.4" y="353.2" font-size="2.8" text-anchor="middle" fill="#888">10</text>
<text x="337.0" y="310.4" font-size="11.3" font-weight="bold" textLength="11.5" lengthAdjust="spacingAndGlyphs" fill="#000">22</text>
<text x="346.1" y="367.4" font-size="10.4" font-weight="bold" textLength="25.8" lengthAdjust="spacingAndGlyphs" fill="#000">CFSE</text>
<line x1="432.0" y1="287.0" x2="432.0" y2="348.9" stroke="#333" stroke-width="2.0"/>
<line x1="432.0" y1="348.9" x2="493.8" y2="348.9" stroke="#000" stroke-width="1.2"/>
<text x="428.2" y="288.8" font-size="3" fill="#777">2</text>
<text transform="translate(427.8,321.95) rotate(-90)" font-size="3" fill="#888">Events</text>
<text x="428.0" y="349.7" font-size="3" fill="#777">0</text>
<polygon points="461.9,348.9 463.0,345.0 464.7,343.9 465.8,342.6 466.6,337.5 467.4,335.0 468.1,334.2 468.8,335.0 469.4,337.0 470.1,340.4 470.6,337.0 471.2,333.2 472.0,331.4 472.7,331.6 473.3,333.2 474.2,339.0 475.2,341.0 476.5,335.0 478.2,333.3 479.3,326.0 480.4,307.0 481.1,302.5 481.5,302.5 482.1,308.0 482.9,331.6 483.5,342.8 484.9,346.2 487.1,348.2 488.0,348.9" fill="#000"/>
<line x1="432.0" y1="319.2" x2="475.6" y2="319.2" stroke="#444" stroke-width="0.9"/>
<polygon points="473.6,318.2 476.1,319.2 473.6,320.2" fill="#777"/>
<text x="469.4" y="317.6" font-size="3.4" fill="#333" style="stroke:none">M1</text>
<text x="433.0" y="352.9" font-size="2.8" text-anchor="middle" fill="#888">10</text>
<text x="448.0" y="352.9" font-size="2.8" text-anchor="middle" fill="#888">10</text>
<text x="463.2" y="352.9" font-size="2.8" text-anchor="middle" fill="#888">10</text>
<text x="479.3" y="352.9" font-size="2.8" text-anchor="middle" fill="#888">10</text>
<text x="493.3" y="352.9" font-size="2.8" text-anchor="middle" fill="#888">10</text>
<text x="447.8" y="300.6" font-size="10.8" font-weight="bold" textLength="11.4" lengthAdjust="spacingAndGlyphs" fill="#000">42</text>
<text x="448.3" y="368.0" font-size="10.4" font-weight="bold" textLength="25.8" lengthAdjust="spacingAndGlyphs" fill="#000">CFSE</text>
<line x1="156.4" y1="385.6" x2="156.4" y2="448.8" stroke="#000" stroke-width="1.4"/>
<line x1="156.4" y1="448.8" x2="223.8" y2="448.8" stroke="#000" stroke-width="1.4"/>
<text x="155.20000000000002" y="388.3" font-size="7.8" font-weight="bold" text-anchor="end" fill="#000">50</text>
<text x="155.20000000000002" y="400.94" font-size="7.8" font-weight="bold" text-anchor="end" fill="#000">40</text>
<text x="155.20000000000002" y="413.58" font-size="7.8" font-weight="bold" text-anchor="end" fill="#000">30</text>
<text x="155.20000000000002" y="426.22" font-size="7.8" font-weight="bold" text-anchor="end" fill="#000">20</text>
<text x="155.20000000000002" y="438.86" font-size="7.8" font-weight="bold" text-anchor="end" fill="#000">10</text>
<text x="155.20000000000002" y="451.5" font-size="7.8" font-weight="bold" text-anchor="end" fill="#000">0</text>
<text x="156.8" y="458.2" font-size="8.0" font-weight="bold" text-anchor="middle" fill="#000">0</text>
<text x="174.0" y="458.2" font-size="8.0" font-weight="bold" text-anchor="middle" fill="#000">20</text>
<text x="191.3" y="458.2" font-size="8.0" font-weight="bold" text-anchor="middle" fill="#000">40</text>
<text x="208.5" y="458.2" font-size="8.0" font-weight="bold" text-anchor="middle" fill="#000">60</text>
<text x="225.8" y="458.2" font-size="8.0" font-weight="bold" text-anchor="middle" fill="#000">80</text>
<text transform="translate(140.0,450.3) rotate(-90)" font-size="8.6" font-weight="bold" textLength="70" lengthAdjust="spacingAndGlyphs">cells in cycle (%)</text>
<text x="175.6" y="471.0" font-size="8.8" font-weight="bold" textLength="31.4" lengthAdjust="spacingAndGlyphs" fill="#000">time (h)</text>
<polyline points="161.6,448.8 176.9,447.9 197.3,446.9 217.7,448.0" fill="none" stroke="#333" stroke-width="1.1"/>
<polygon points="176.9,445.79999999999995 178.6,447.9 176.9,450.0 175.20000000000002,447.9" fill="#fff" stroke="#000" stroke-width="1"/>
<polygon points="197.3,444.79999999999995 199.0,446.9 197.3,449.0 195.60000000000002,446.9" fill="#fff" stroke="#000" stroke-width="1"/>
<polygon points="217.7,445.9 219.39999999999998,448.0 217.7,450.1 216.0,448.0" fill="#fff" stroke="#000" stroke-width="1"/>
<polyline points="161.6,448.8 176.9,447.9 197.6,420.3 217.6,392.0" fill="none" stroke="#000" stroke-width="1.5"/>
<polygon points="161.6,446.1 163.79999999999998,448.8 161.6,451.5 159.4,448.8" fill="#000"/>
<polygon points="176.9,445.2 179.1,447.9 176.9,450.59999999999997 174.70000000000002,447.9" fill="#000"/>
<polygon points="197.6,417.6 199.79999999999998,420.3 197.6,423.0 195.4,420.3" fill="#000"/>
<polygon points="217.6,389.3 219.79999999999998,392.0 217.6,394.7 215.4,392.0" fill="#000"/>
<line x1="333.1" y1="385.7" x2="333.1" y2="449.0" stroke="#000" stroke-width="1.4"/>
<line x1="333.1" y1="449.0" x2="400.5" y2="449.0" stroke="#000" stroke-width="1.4"/>
<text x="331.90000000000003" y="388.4" font-size="7.8" font-weight="bold" text-anchor="end" fill="#000">50</text>
<text x="331.90000000000003" y="401.06" font-size="7.8" font-weight="bold" text-anchor="end" fill="#000">40</text>
<text x="331.90000000000003" y="413.71999999999997" font-size="7.8" font-weight="bold" text-anchor="end" fill="#000">30</text>
<text x="331.90000000000003" y="426.38" font-size="7.8" font-weight="bold" text-anchor="end" fill="#000">20</text>
<text x="331.90000000000003" y="439.03999999999996" font-size="7.8" font-weight="bold" text-anchor="end" fill="#000">10</text>
<text x="331.90000000000003" y="451.7" font-size="7.8" font-weight="bold" text-anchor="end" fill="#000">0</text>
<text x="333.8" y="458.4" font-size="8.0" font-weight="bold" text-anchor="middle" fill="#000">0</text>
<text x="350.8" y="458.4" font-size="8.0" font-weight="bold" text-anchor="middle" fill="#000">20</text>
<text x="367.6" y="458.4" font-size="8.0" font-weight="bold" text-anchor="middle" fill="#000">40</text>
<text x="384.4" y="458.4" font-size="8.0" font-weight="bold" text-anchor="middle" fill="#000">60</text>
<text x="401.4" y="458.4" font-size="8.0" font-weight="bold" text-anchor="middle" fill="#000">80</text>
<text transform="translate(319.3,450.5) rotate(-90)" font-size="8.6" font-weight="bold" textLength="70" lengthAdjust="spacingAndGlyphs">cells in cycle (%)</text>
<text x="352.2" y="471.0" font-size="8.8" font-weight="bold" textLength="31.4" lengthAdjust="spacingAndGlyphs" fill="#000">time (h)</text>
<polyline points="337.4,448.8 353.0,448.8 373.1,447.4 393.7,448.0" fill="none" stroke="#333" stroke-width="1.1"/>
<polyline points="337.4,448.8 353.0,448.8 373.1,445.0 393.7,420.8" fill="none" stroke="#000" stroke-width="1.5"/>
<polygon points="337.4,446.1 339.59999999999997,448.8 337.4,451.5 335.2,448.8" fill="#000"/>
<polygon points="353.0,446.1 355.2,448.8 353.0,451.5 350.8,448.8" fill="#000"/>
<polygon points="373.1,442.3 375.3,445.0 373.1,447.7 370.90000000000003,445.0" fill="#000"/>
<polygon points="393.7,418.1 395.9,420.8 393.7,423.5 391.5,420.8" fill="#000"/>
<polygon points="353.0,446.7 354.7,448.8 353.0,450.90000000000003 351.3,448.8" fill="#fff" stroke="#000" stroke-width="1"/>
<polygon points="373.1,445.29999999999995 374.8,447.4 373.1,449.5 371.40000000000003,447.4" fill="#fff" stroke="#000" stroke-width="1"/>
<polygon points="393.7,445.9 395.4,448.0 393.7,450.1 392.0,448.0" fill="#fff" stroke="#000" stroke-width="1"/>
<line x1="440.2" y1="385.7" x2="440.2" y2="449.0" stroke="#000" stroke-width="1.4"/>
<line x1="440.2" y1="449.0" x2="509.1" y2="449.0" stroke="#000" stroke-width="1.4"/>
<text x="439.0" y="388.4" font-size="7.8" font-weight="bold" text-anchor="end" fill="#000">50</text>
<text x="439.0" y="401.06" font-size="7.8" font-weight="bold" text-anchor="end" fill="#000">40</text>
<text x="439.0" y="413.71999999999997" font-size="7.8" font-weight="bold" text-anchor="end" fill="#000">30</text>
<text x="439.0" y="426.38" font-size="7.8" font-weight="bold" text-anchor="end" fill="#000">20</text>
<text x="439.0" y="439.03999999999996" font-size="7.8" font-weight="bold" text-anchor="end" fill="#000">10</text>
<text x="439.0" y="451.7" font-size="7.8" font-weight="bold" text-anchor="end" fill="#000">0</text>
<text x="441.3" y="458.4" font-size="8.0" font-weight="bold" text-anchor="middle" fill="#000">0</text>
<text x="458.9" y="458.4" font-size="8.0" font-weight="bold" text-anchor="middle" fill="#000">20</text>
<text x="476.0" y="458.4" font-size="8.0" font-weight="bold" text-anchor="middle" fill="#000">40</text>
<text x="492.9" y="458.4" font-size="8.0" font-weight="bold" text-anchor="middle" fill="#000">60</text>
<text x="509.6" y="458.4" font-size="8.0" font-weight="bold" text-anchor="middle" fill="#000">80</text>
<text transform="translate(421.8,450.5) rotate(-90)" font-size="8.6" font-weight="bold" textLength="70" lengthAdjust="spacingAndGlyphs">cells in cycle (%)</text>
<text x="459.6" y="471.0" font-size="8.8" font-weight="bold" textLength="31.4" lengthAdjust="spacingAndGlyphs" fill="#000">time (h)</text>
<polyline points="444.8,449.0 460.1,446.8 501.8,441.1" fill="none" stroke="#333" stroke-width="1.1"/>
<polygon points="460.1,444.7 461.8,446.8 460.1,448.90000000000003 458.40000000000003,446.8" fill="#fff" stroke="#000" stroke-width="1"/>
<polygon points="501.8,439.0 503.5,441.1 501.8,443.20000000000005 500.1,441.1" fill="#fff" stroke="#000" stroke-width="1"/>
<polyline points="444.8,449.0 460.1,440.0 501.8,395.5" fill="none" stroke="#000" stroke-width="1.5"/>
<polygon points="444.8,446.3 447.0,449.0 444.8,451.7 442.6,449.0" fill="#000"/>
<polygon points="460.1,437.3 462.3,440.0 460.1,442.7 457.90000000000003,440.0" fill="#000"/>
<polygon points="501.8,392.8 504.0,395.5 501.8,398.2 499.6,395.5" fill="#000"/>
</svg>
</body></html>
